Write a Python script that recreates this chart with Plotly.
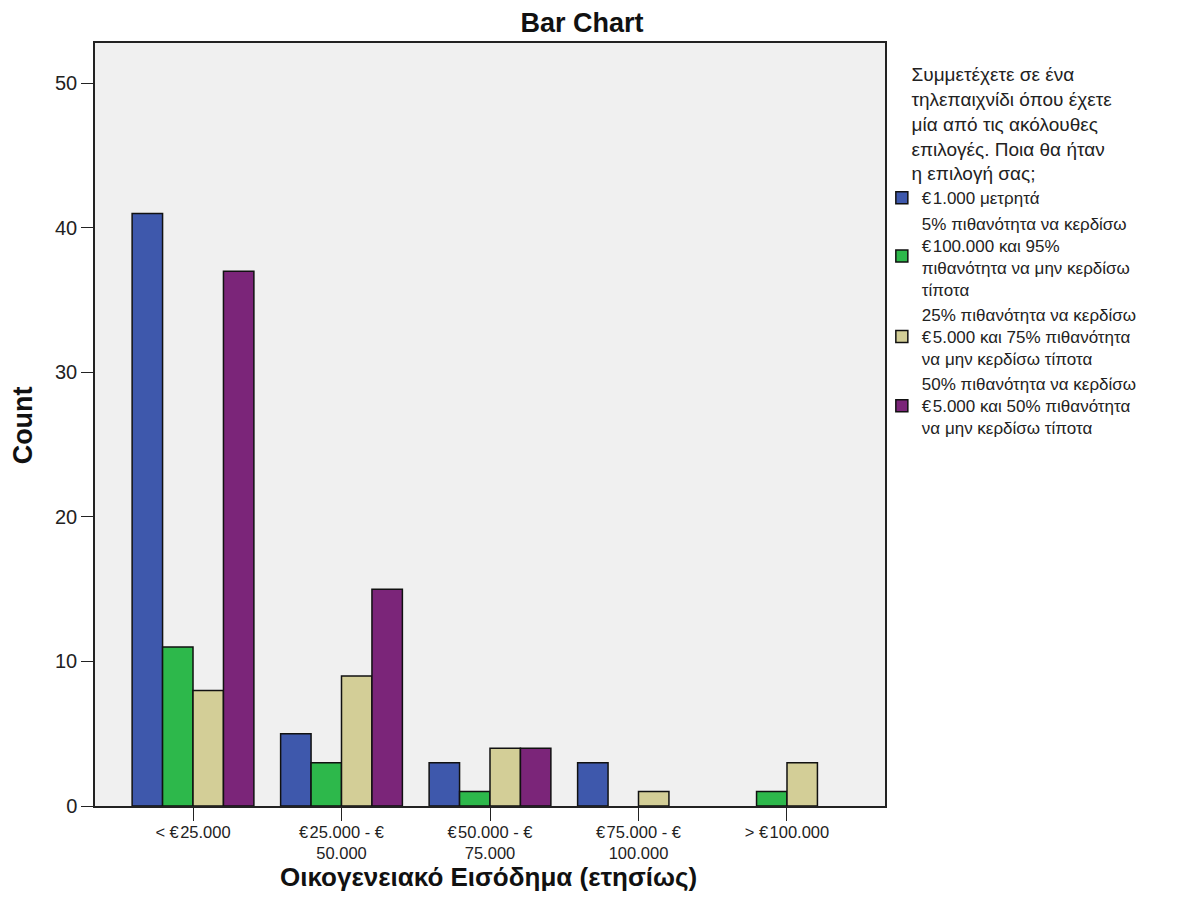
import plotly.graph_objects as go

# Income categories (x axis)
categories = ["< €\u200a25.000", "€\u200a25.000 - €<br>50.000", "€\u200a50.000 - €<br>75.000",
              "€\u200a75.000 - €<br>100.000", "> €\u200a100.000"]

# Series: choice in the game-show question
series_names = [
    "€\u200a1.000 μετρητά",
    "5% πιθανότητα να κερδίσω<br>€\u200a100.000 και 95%<br>πιθανότητα να μην κερδίσω<br>τίποτα",
    "25% πιθανότητα να κερδίσω<br>€\u200a5.000 και 75% πιθανότητα<br>να μην κερδίσω τίποτα",
    "50% πιθανότητα να κερδίσω<br>€\u200a5.000 και 50% πιθανότητα<br>να μην κερδίσω τίποτα",
]
counts_cash = [41, 5, 3, 3, 0]
counts_5pct = [11, 3, 1, 0, 1]
counts_25pct = [8, 9, 4, 1, 3]
counts_50pct = [37, 15, 4, 0, 0]
colours = ["#3e58ac", "#2db84b", "#d3ce97", "#7b2579"]

x_idx = list(range(len(categories)))

fig = go.Figure()
for name, vals, col in zip(series_names, [counts_cash, counts_5pct, counts_25pct, counts_50pct], colours):
    # no outline on empty bars, so nothing is drawn at zero
    widths = [1.5 if v > 0 else 0 for v in vals]
    fig.add_trace(go.Bar(
        x=x_idx, y=vals, name=name,
        marker=dict(color=col, line=dict(color="#111", width=widths)),
    ))

FONT = "Liberation Sans, Arial, sans-serif"

fig.update_layout(
    width=1169, height=904,
    barmode="group", bargap=0.18, bargroupgap=0,
    paper_bgcolor="white", plot_bgcolor="#f0f0f0",
    margin=dict(l=87, r=292, t=35, b=106, autoexpand=False),
    font=dict(family=FONT, size=19, color="#222"),
    title=dict(text="<b>Bar Chart</b>", x=0.491, xanchor="center", y=0.984, yanchor="middle",
               font=dict(size=27, color="#111")),
    legend=dict(
        x=0.996, xanchor="left", y=0.982, yanchor="top",
        bgcolor="rgba(0,0,0,0)", tracegroupgap=4,
        font=dict(size=17, color="#222"),
        title=dict(
            text="Συμμετέχετε σε ένα<br>τηλεπαιχνίδι όπου έχετε<br>μία από τις ακόλουθες<br>επιλογές. Ποια θα ήταν<br>η επιλογή σας;",
            side="top center", font=dict(size=19, color="#222"),
        ),
    ),
    showlegend=True,
    annotations=[
        dict(text="<b>Οικογενειακό Εισόδημα (ετησίως)</b>", xref="paper", yref="paper",
             x=0.4975, y=-0.093, xanchor="center", yanchor="middle", showarrow=False,
             font=dict(size=26, color="#111")),
        dict(text="<b>Count</b>", xref="paper", yref="paper", textangle=-90,
             x=-0.091, y=0.499, xanchor="center", yanchor="middle", showarrow=False,
             font=dict(size=27, color="#111")),
    ],
)

fig.update_xaxes(
    tickmode="array", tickvals=x_idx, ticktext=categories,
    range=[-0.66, 4.66], automargin=False,
    showline=True, linecolor="#222", linewidth=1.5, mirror=True,
    ticks="outside", ticklen=13, tickcolor="#222", showgrid=False,
    ticklabelstandoff=-3,
    tickfont=dict(size=16.5, color="#222"),
)
fig.update_yaxes(
    range=[0, 52.8], tickvals=[0, 10, 20, 30, 40, 50], automargin=False,
    showline=True, linecolor="#222", linewidth=1.5, mirror=True,
    ticks="outside", ticklen=12, tickcolor="#222", showgrid=False, zeroline=False,
    tickfont=dict(size=20, color="#222"),
)

fig.write_html("out.html")
